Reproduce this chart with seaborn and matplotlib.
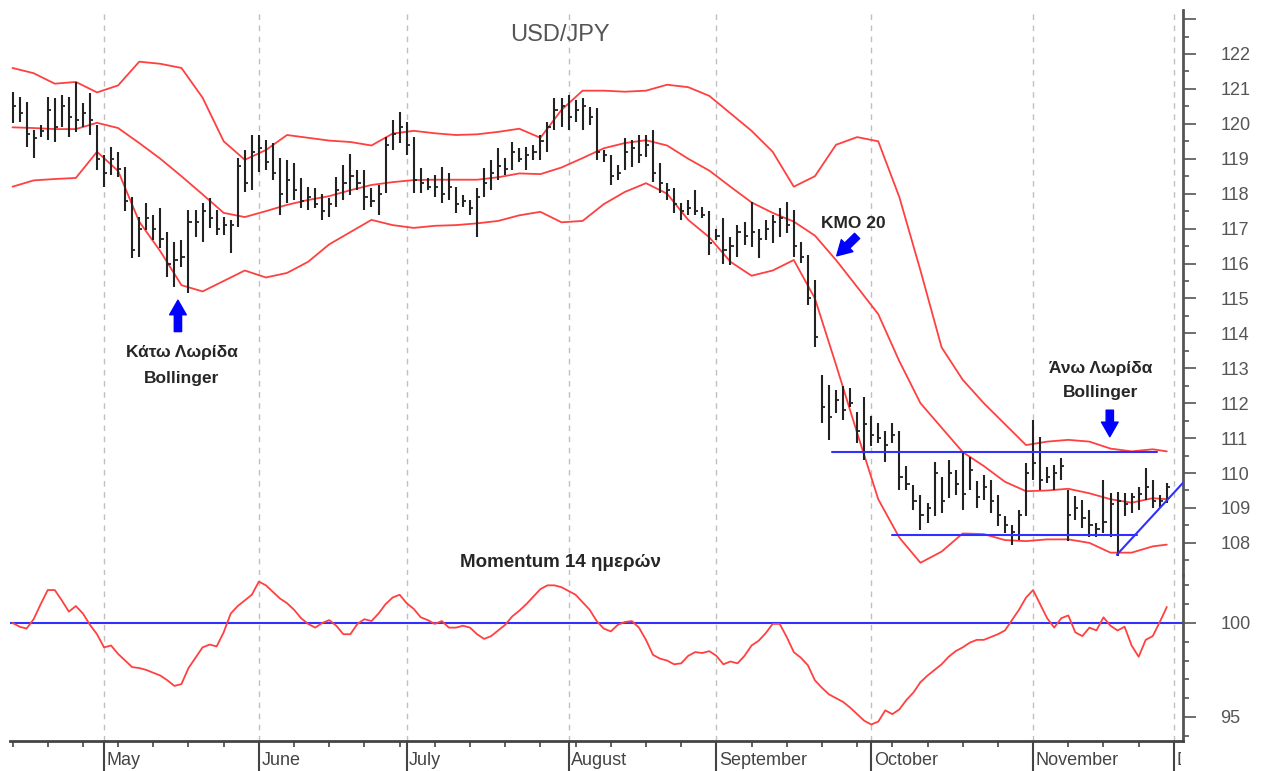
import numpy as np
import pandas as pd
import matplotlib
matplotlib.use("Agg")
import matplotlib.pyplot as plt
from matplotlib.transforms import Bbox
import seaborn as sns

# trading days shown on the chart (USD/JPY daily, 2003)
start_date = "2003-04-14"
end_date = "2003-12-02"

# daily bars (one value per trading day)
bar_high = [120.92, 120.78, 120.63, 119.82, 119.97, 120.78, 120.73, 120.83, 120.78, 121.21,
            120.60, 120.87, 119.97, 119.11, 119.35, 119.20, 118.77, 117.91, 117.34, 117.72,
            117.39, 117.58, 116.91, 116.63, 116.68, 117.53, 117.53, 117.72, 117.87, 117.53,
            117.34, 117.25, 119.01, 119.25, 119.68, 119.68, 119.54, 119.44, 119.01, 118.97,
            118.87, 118.44, 118.20, 118.15, 118.00, 117.87, 118.49, 118.82, 119.15, 118.68,
            118.68, 118.15, 118.25, 119.63, 120.11, 120.35, 120.06, 119.63, 118.73, 118.44,
            118.54, 118.77, 118.58, 118.20, 117.96, 117.82, 118.15, 118.73, 118.97, 119.30,
            119.02, 119.49, 119.30, 119.35, 119.40, 119.68, 120.06, 120.73, 120.73, 120.83,
            120.68, 120.73, 120.49, 120.44, 119.25, 119.11, 118.82, 119.59, 119.54, 119.68,
            119.68, 119.82, 118.87, 118.30, 118.15, 117.72, 117.82, 118.10, 117.63, 117.49,
            117.00, 117.30, 116.77, 117.10, 117.20, 117.77, 117.00, 117.25, 117.39, 117.58,
            117.77, 117.53, 116.63, 116.25, 115.53, 112.81, 112.52, 112.38, 112.48, 112.43,
            111.76, 112.19, 111.62, 111.43, 111.19, 111.43, 111.19, 110.19, 109.66, 109.38,
            109.14, 110.33, 109.90, 110.38, 110.09, 110.61, 110.47, 109.76, 109.95, 109.80,
            109.38, 108.76, 108.52, 108.95, 110.28, 111.52, 111.04, 110.18, 110.23, 110.42,
            109.52, 109.33, 109.23, 108.95, 108.57, 109.80, 109.43, 109.47, 109.43, 109.43,
            109.61, 110.14, 109.80, 109.38, 109.72]
bar_low = [120.02, 120.06, 119.35, 119.01, 119.63, 119.54, 119.49, 119.92, 119.63, 119.78,
           119.92, 119.68, 118.68, 118.20, 118.54, 118.49, 117.49, 116.15, 116.20, 116.96,
           116.67, 116.44, 115.62, 115.34, 115.91, 115.15, 116.77, 116.63, 117.01, 116.82,
           116.82, 116.29, 117.06, 118.06, 118.10, 118.63, 118.68, 118.39, 117.39, 117.72,
           117.82, 117.58, 117.53, 117.58, 117.25, 117.34, 117.63, 117.82, 117.96, 118.10,
           117.53, 117.63, 117.39, 118.01, 119.25, 119.44, 119.11, 118.01, 118.01, 118.10,
           117.91, 117.72, 117.82, 117.44, 117.63, 117.39, 116.77, 117.91, 118.10, 118.39,
           118.54, 118.68, 118.90, 118.68, 118.97, 118.97, 119.20, 119.82, 119.92, 119.82,
           120.06, 119.82, 119.97, 118.97, 118.92, 118.25, 118.39, 118.68, 118.77, 118.87,
           119.06, 118.34, 118.01, 117.82, 117.44, 117.25, 117.39, 117.39, 117.30, 116.25,
           116.68, 116.00, 115.96, 116.20, 116.53, 116.48, 116.15, 116.68, 116.60, 116.77,
           116.87, 116.20, 116.01, 114.81, 113.62, 111.43, 110.95, 111.72, 111.52, 111.90,
           110.85, 110.38, 110.76, 110.85, 110.33, 110.85, 109.52, 109.52, 108.95, 108.37,
           108.57, 108.76, 108.85, 109.28, 109.38, 108.95, 109.52, 109.00, 109.23, 108.85,
           108.47, 108.28, 107.94, 108.09, 108.76, 109.80, 109.52, 109.72, 109.52, 109.80,
           108.04, 108.66, 108.43, 108.18, 108.18, 108.28, 108.18, 107.61, 108.76, 108.86,
           108.95, 109.23, 109.00, 109.00, 109.14]
bar_close = [120.5, 120.3, 119.7, 119.6, 119.8, 120.4, 119.9, 120.5, 120.2, 120.1,
             120.3, 120.1, 119.0, 118.6, 119.0, 118.7, 117.8, 116.4, 117.0, 117.3,
             117.0, 116.7, 116.0, 116.1, 116.2, 117.2, 117.2, 117.5, 117.3, 117.0,
             117.1, 117.1, 118.8, 118.3, 119.2, 119.3, 118.9, 118.6, 118.0, 118.4,
             118.1, 117.8, 117.9, 117.7, 117.5, 117.7, 118.1, 118.3, 118.5, 118.3,
             117.9, 117.8, 118.0, 119.4, 119.7, 119.9, 119.4, 118.4, 118.3, 118.2,
             118.2, 118.0, 118.2, 117.7, 117.8, 117.6, 117.9, 118.3, 118.6, 118.8,
             118.7, 119.2, 119.0, 119.1, 119.2, 119.5, 119.9, 120.4, 120.5, 120.2,
             120.4, 120.5, 120.2, 119.2, 119.1, 118.5, 118.6, 119.2, 119.3, 119.1,
             119.4, 118.6, 118.3, 118.1, 117.7, 117.5, 117.6, 117.5, 117.4, 116.6,
             116.8, 116.4, 116.5, 116.9, 116.8, 116.9, 116.7, 117.0, 117.2, 117.3,
             117.1, 116.5, 116.2, 115.0, 113.9, 111.9, 111.6, 112.1, 111.8, 112.0,
             111.2, 111.4, 111.1, 111.0, 110.8, 111.1, 109.9, 109.7, 109.2, 108.8,
             109.0, 110.0, 109.2, 110.0, 109.7, 109.4, 110.1, 109.3, 109.6, 109.2,
             108.8, 108.5, 108.3, 108.8, 110.0, 110.3, 109.8, 109.9, 110.0, 110.2,
             108.8, 109.0, 108.7, 108.5, 108.4, 108.6, 109.1, 109.2, 109.1, 109.3,
             109.4, 109.6, 109.2, 109.2, 109.6]

# Bollinger bands (20 day), read every third trading day
band_idx = [0, 3, 6, 9, 12, 15, 18, 21, 24, 27, 30, 33, 36, 39, 42, 45, 48, 51, 54, 57,
            60, 63, 66, 69, 72, 75, 78, 81, 84, 87, 90, 93, 96, 99, 102, 105, 108, 111, 114, 117,
            120, 123, 126, 129, 132, 135, 138, 141, 144, 147, 150, 153, 156, 159, 162, 164]
band_upper = [121.60, 121.45, 121.15, 121.20, 120.90, 121.10, 121.78, 121.72, 121.60, 120.75,
              119.50, 118.97, 119.25, 119.68, 119.60, 119.52, 119.48, 119.38, 119.72, 119.80,
              119.73, 119.68, 119.70, 119.77, 119.86, 119.60, 120.40, 120.95, 120.95, 120.92,
              120.95, 121.12, 121.05, 120.80, 120.30, 119.80, 119.20, 118.20, 118.50, 119.40,
              119.62, 119.50, 117.90, 115.80, 113.60, 112.67, 112.00, 111.40, 110.80, 110.90,
              110.95, 110.90, 110.70, 110.62, 110.68, 110.62]
band_mid = [119.90, 119.88, 119.85, 119.85, 120.03, 119.88, 119.45, 119.00, 118.50, 117.98,
            117.45, 117.33, 117.50, 117.68, 117.82, 117.93, 118.10, 118.25, 118.33, 118.39,
            118.40, 118.40, 118.40, 118.47, 118.58, 118.56, 118.75, 119.02, 119.30, 119.45,
            119.53, 119.38, 119.00, 118.66, 118.20, 117.75, 117.45, 117.20, 116.80, 116.10,
            115.33, 114.55, 113.20, 112.00, 111.30, 110.60, 110.20, 109.75, 109.48, 109.50,
            109.55, 109.42, 109.25, 109.15, 109.28, 109.25]
band_lower = [118.20, 118.38, 118.42, 118.45, 119.20, 118.65, 117.20, 116.35, 115.38, 115.20,
              115.50, 115.80, 115.60, 115.73, 116.05, 116.55, 116.90, 117.25, 117.10, 117.02,
              117.08, 117.10, 117.15, 117.22, 117.38, 117.48, 117.18, 117.22, 117.70, 118.05,
              118.30, 118.00, 117.25, 116.75, 116.05, 115.65, 115.80, 116.10, 115.00, 113.10,
              111.15, 109.25, 108.15, 107.43, 107.75, 108.27, 108.25, 108.08, 108.05, 108.10,
              108.10, 108.00, 107.72, 107.72, 107.90, 107.95]

# Momentum 14 days, one value per trading day
momentum = [100.0, 99.8, 99.7, 100.2, 101.0, 101.75, 101.75, 101.2, 100.6, 100.9,
            100.5, 99.9, 99.4, 98.7, 98.8, 98.35, 98.0, 97.65, 97.6, 97.5,
            97.35, 97.2, 96.95, 96.65, 96.75, 97.6, 98.15, 98.7, 98.85, 98.75,
            99.5, 100.5, 100.9, 101.2, 101.5, 102.2, 102.0, 101.65, 101.3, 101.05,
            100.7, 100.25, 99.95, 99.75, 100.0, 100.15, 99.85, 99.4, 99.4, 99.95,
            100.2, 100.1, 100.5, 101.0, 101.35, 101.5, 101.05, 100.75, 100.3, 100.15,
            99.95, 100.1, 99.75, 99.75, 99.85, 99.75, 99.4, 99.15, 99.3, 99.6,
            99.9, 100.35, 100.65, 101.0, 101.4, 101.8, 102.0, 102.0, 101.9, 101.7,
            101.5, 101.1, 100.7, 100.1, 99.7, 99.55, 99.9, 100.05, 100.1, 99.75,
            99.1, 98.3, 98.1, 98.0, 97.8, 97.85, 98.25, 98.45, 98.4, 98.5,
            98.25, 97.8, 97.95, 97.85, 98.25, 98.8, 99.05, 99.45, 99.95, 99.95,
            99.25, 98.45, 98.15, 97.75, 96.95, 96.55, 96.2, 96.0, 95.8, 95.5,
            95.15, 94.8, 94.6, 94.75, 95.35, 95.15, 95.4, 95.9, 96.3, 96.85,
            97.2, 97.5, 97.8, 98.2, 98.5, 98.7, 98.95, 99.1, 99.1, 99.25,
            99.4, 99.6, 100.15, 100.7, 101.35, 101.75, 101.0, 100.25, 99.75, 100.25,
            100.4, 99.5, 99.3, 99.75, 99.6, 100.3, 99.85, 99.6, 99.8, 98.8,
            98.2, 99.1, 99.3, 100.05, 100.85]

# drawn trend lines: (start index, end index, start price, end price)
resistance = (116.5, 162.6, 110.6, 110.6)
support = (124.9, 159.7, 108.23, 108.23)
trend_up = (156.9, 166.3, 107.66, 109.72)
mom_base = 100

month_names = ["May", "June", "July", "August", "September", "October", "November", "December"]

red = "#ff4040"
blue = "#3030ff"
grey = "#555555"

sns.set_style("white")
plt.rcParams["font.family"] = ["Liberation Sans", "DejaVu Sans"]

dates = pd.bdate_range(start_date, end_date)
idx = np.arange(len(bar_close))
pos = pd.Series(np.arange(len(dates)), index=dates)
month_idx = pos.groupby([dates.year, dates.month]).min().values[1:]
monday_idx = pos[dates.dayofweek == 0].values

W, H = 1268, 771
def rect(x0, y0, x1, y1):
    return [x0 / W, 1 - y1 / H, (x1 - x0) / W, (y1 - y0) / H]

fig = plt.figure(figsize=(W / 100, H / 100), dpi=100)
ax1 = fig.add_axes(rect(10, 10, 1183, 575))
ax2 = fig.add_axes(rect(10, 575, 1183, 741), sharex=ax1)

# month grid
for ax in (ax1, ax2):
    for m in month_idx:
        ax.axvline(m, color="#c0c0c0", lw=1, ls=(0, (4, 4)), zorder=0)

# price bars
ax1.vlines(idx, bar_low, bar_high, color="#222222", lw=1.5, zorder=3)
ax1.hlines(bar_close, idx, idx + 0.45, color="#222222", lw=1.3, zorder=3)

# bollinger bands
for band in (band_upper, band_mid, band_lower):
    sns.lineplot(x=band_idx, y=band, ax=ax1, color=red, lw=1.3, zorder=2)

# trend lines
for x0, x1, y0, y1 in (resistance, support, trend_up):
    ax1.plot([x0, x1], [y0, y1], color=blue, lw=1.5, zorder=4)

# momentum
ax2.axhline(mom_base, color=blue, lw=1.5, zorder=2)
sns.lineplot(x=idx, y=momentum, ax=ax2, color=red, lw=1.3, zorder=3)

ax1.set_xlim(-0.36, 166.3)
ax1.set_ylim(107.08, 123.26)
ax2.set_ylim(93.72, 102.55)

# axes styling
for ax in (ax1, ax2):
    ax.set_xlabel("")
    ax.set_ylabel("")
    ax.set_facecolor("none")
    for s in ("left", "top", "bottom", "right"):
        ax.spines[s].set_visible(False)
    ax.spines["right"].set_visible(True)
    ax.spines["right"].set_color(grey)
    ax.spines["right"].set_linewidth(2)
    ax.yaxis.tick_right()
    ax.tick_params(axis="y", which="major", length=9, width=1.2, color=grey,
                   pad=18, labelsize=13, labelcolor=grey)
    ax.tick_params(axis="y", which="minor", length=4.5, width=1.2, color=grey)
ax2.spines["bottom"].set_visible(True)
ax2.spines["bottom"].set_color("#444444")
ax2.spines["bottom"].set_linewidth(2)

price_major = list(range(108, 124))
ax1.set_yticks(price_major)
ax1.set_yticklabels([str(p) if p < 123 else "" for p in price_major])
ax1.set_yticks(np.arange(107.5, 123.3, 1.0), minor=True)
ax1.tick_params(axis="x", which="both", bottom=False, labelbottom=False)

ax2.set_yticks([95, 100])
ax2.set_yticks([94, 96, 97, 98, 99, 101, 102], minor=True)

ax2.set_xticks(month_idx)
ax2.set_xticklabels([])
ax2.set_xticks(monday_idx, minor=True)
ax2.tick_params(axis="x", which="major", bottom=True, length=22, width=1.5,
                color="#444444", direction="out")
ax2.tick_params(axis="x", which="minor", bottom=True, length=4.5, width=1.2,
                color="#444444", direction="out")
label_clip = Bbox([[0, 0], [1181, H]])
for m, name in zip(month_idx, month_names):
    t = ax2.text(m + 0.35, -0.115, name, transform=ax2.get_xaxis_transform(),
                 ha="left", va="center", fontsize=13, color="#444444")
    t.set_clip_on(True)
    t.set_clip_box(label_clip)

# texts and arrows
fig.text(560 / W, 1 - 35 / H, "USD/JPY", ha="center", va="center", fontsize=17, color=grey)
ax1.text(24, 113.44, "Κάτω Λωρίδα", ha="center", va="center", fontsize=12.5, fontweight="bold")
ax1.text(24, 112.72, "Bollinger", ha="center", va="center", fontsize=12.5, fontweight="bold")
ax1.text(119.5, 117.16, "ΚΜΟ 20", ha="center", va="center", fontsize=12.5, fontweight="bold")
ax1.text(154.6, 113.0, "Άνω Λωρίδα", ha="center", va="center", fontsize=12.5, fontweight="bold")
ax1.text(154.6, 112.3, "Bollinger", ha="center", va="center", fontsize=12.5, fontweight="bold")
ax1.text(77.9, 107.43, "Momentum 14 ημερών", ha="center", va="center", fontsize=13.5, fontweight="bold")

arrow = dict(arrowstyle="simple,head_length=0.7,head_width=0.8,tail_width=0.35",
             color="#0000ff", mutation_scale=15, shrinkA=0, shrinkB=0)
ax1.annotate("", xy=(23.5, 114.95), xytext=(23.5, 114.05), arrowprops=arrow)
ax1.annotate("", xy=(117.1, 116.22), xytext=(120.0, 116.79), arrowprops=arrow)
ax1.annotate("", xy=(155.9, 111.04), xytext=(155.9, 111.8), arrowprops=arrow)

fig.savefig("out.png", dpi=100)
